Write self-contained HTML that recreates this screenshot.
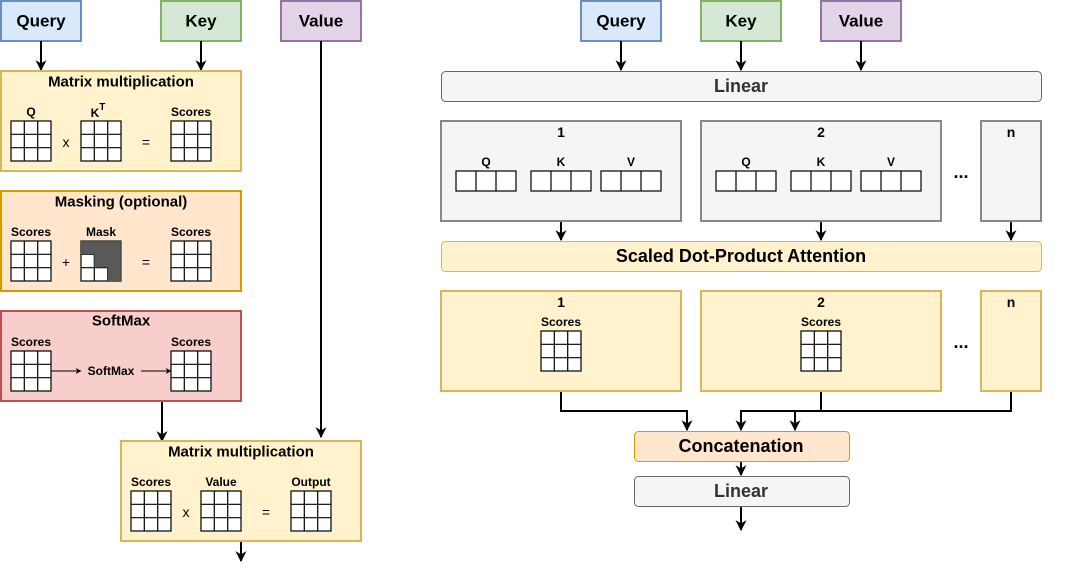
<!DOCTYPE html>
<html><head><meta charset="utf-8"><style>
html,body{margin:0;padding:0;background:#fff;}
svg{display:block;font-family:"Liberation Sans",Arial,sans-serif;}
.t{font-weight:bold;text-anchor:middle;dominant-baseline:central;}
</style></head><body>
<svg width="1087" height="570" viewBox="0 0 1087 570" xmlns="http://www.w3.org/2000/svg">
<defs>
<marker id="a" viewBox="0 0 10 10" refX="9" refY="5" markerWidth="6" markerHeight="6" orient="auto" markerUnits="userSpaceOnUse"><path d="M0,0 L10,5 L0,10 L3,5 Z" fill="#000"/></marker>
<marker id="A" viewBox="0 0 10 10" refX="9" refY="5" markerWidth="11" markerHeight="11" orient="auto" markerUnits="userSpaceOnUse"><path d="M0,0 L10,5 L0,10 L3,5 Z" fill="#000"/></marker>
<g id="g">
<rect x="0" y="0" width="40" height="40" fill="#fff" stroke="#000" stroke-width="1.2"/>
<path d="M13.3,0V40M26.7,0V40M0,13.3H40M0,26.7H40" stroke="#000" stroke-width="1.2"/>
</g>
<g id="r">
<rect x="0" y="0" width="60" height="20" fill="#fff" stroke="#000" stroke-width="1.2"/>
<path d="M20,0V20M40,0V20" stroke="#000" stroke-width="1.2"/>
</g>
</defs>

<!-- LEFT -->
<rect x="1" y="1" width="80" height="40" fill="#dae8fc" stroke="#6c8ebf" stroke-width="2"/>
<text class="t" x="41" y="21" font-size="17">Query</text>
<rect x="161" y="1" width="80" height="40" fill="#d5e8d4" stroke="#82b366" stroke-width="2"/>
<text class="t" x="201" y="21" font-size="17">Key</text>
<rect x="281" y="1" width="80" height="40" fill="#e1d5e7" stroke="#9673a6" stroke-width="2"/>
<text class="t" x="321" y="21" font-size="17">Value</text>
<g stroke="#000" stroke-width="2" fill="none">
<path d="M41,41V70" marker-end="url(#A)"/>
<path d="M201,41V70" marker-end="url(#A)"/>
<path d="M321,41V437" marker-end="url(#A)"/>
<path d="M162,401V441" marker-end="url(#A)"/>
<path d="M241,541V561" marker-end="url(#A)"/>
</g>

<rect x="1" y="71" width="240" height="100" fill="#fff2cc" stroke="#d6b656" stroke-width="2"/>
<text class="t" x="121" y="82" font-size="15">Matrix multiplication</text>
<text class="t" x="31" y="112" font-size="12">Q</text>
<text class="t" x="98" y="113" font-size="12">K<tspan font-size="10" dy="-6">T</tspan></text>
<text class="t" x="191" y="112" font-size="12">Scores</text>
<use href="#g" x="11" y="121"/><use href="#g" x="81" y="121"/><use href="#g" x="171" y="121"/>
<text x="66" y="142" font-size="14" text-anchor="middle" dominant-baseline="central">x</text>
<text x="146" y="142" font-size="14" text-anchor="middle" dominant-baseline="central">=</text>

<rect x="1" y="191" width="240" height="100" fill="#ffe6cc" stroke="#d79b00" stroke-width="2"/>
<text class="t" x="121" y="202" font-size="15">Masking (optional)</text>
<text class="t" x="31" y="232" font-size="12">Scores</text>
<text class="t" x="101" y="232" font-size="12">Mask</text>
<text class="t" x="191" y="232" font-size="12">Scores</text>
<use href="#g" x="11" y="241"/><use href="#g" x="81" y="241"/><use href="#g" x="171" y="241"/>
<path d="M81,241H121V281H107.7V267.3H94.3V254.3H81Z" fill="#595959"/>
<path d="M81,241H121V281" fill="none" stroke="#444" stroke-width="1.2"/>
<text x="66" y="262" font-size="14" text-anchor="middle" dominant-baseline="central">+</text>
<text x="146" y="262" font-size="14" text-anchor="middle" dominant-baseline="central">=</text>

<rect x="1" y="311" width="240" height="90" fill="#f8cecc" stroke="#b85450" stroke-width="2"/>
<text class="t" x="121" y="321" font-size="15">SoftMax</text>
<text class="t" x="31" y="342" font-size="12">Scores</text>
<text class="t" x="191" y="342" font-size="12">Scores</text>
<use href="#g" x="11" y="351"/><use href="#g" x="171" y="351"/>
<text class="t" x="111" y="371" font-size="12">SoftMax</text>
<g stroke="#000" stroke-width="1" fill="none">
<path d="M51,371H81" marker-end="url(#a)"/>
<path d="M141,371H171" marker-end="url(#a)"/>
</g>

<rect x="121" y="441" width="240" height="100" fill="#fff2cc" stroke="#d6b656" stroke-width="2"/>
<text class="t" x="241" y="452" font-size="15">Matrix multiplication</text>
<text class="t" x="151" y="482" font-size="12">Scores</text>
<text class="t" x="221" y="482" font-size="12">Value</text>
<text class="t" x="311" y="482" font-size="12">Output</text>
<use href="#g" x="131" y="491"/><use href="#g" x="201" y="491"/><use href="#g" x="291" y="491"/>
<text x="186" y="512" font-size="14" text-anchor="middle" dominant-baseline="central">x</text>
<text x="266" y="512" font-size="14" text-anchor="middle" dominant-baseline="central">=</text>

<!-- RIGHT -->
<rect x="581" y="1" width="80" height="40" fill="#dae8fc" stroke="#6c8ebf" stroke-width="2"/>
<text class="t" x="621" y="21" font-size="17">Query</text>
<rect x="701" y="1" width="80" height="40" fill="#d5e8d4" stroke="#82b366" stroke-width="2"/>
<text class="t" x="741" y="21" font-size="17">Key</text>
<rect x="821" y="1" width="80" height="40" fill="#e1d5e7" stroke="#9673a6" stroke-width="2"/>
<text class="t" x="861" y="21" font-size="17">Value</text>
<g stroke="#000" stroke-width="2" fill="none">
<path d="M621,41V70" marker-end="url(#A)"/>
<path d="M741,41V70" marker-end="url(#A)"/>
<path d="M861,41V70" marker-end="url(#A)"/>
<path d="M561,221V240" marker-end="url(#A)"/>
<path d="M821,221V240" marker-end="url(#A)"/>
<path d="M1011,221V240" marker-end="url(#A)"/>
<path d="M561,391V411H687V430" marker-end="url(#A)"/>
<path d="M821,391V411H741V430" marker-end="url(#A)"/>
<path d="M1011,391V411H795V430" marker-end="url(#A)"/>
<path d="M741,461V475" marker-end="url(#A)"/>
<path d="M741,506V530" marker-end="url(#A)"/>
</g>

<rect x="441.5" y="71.5" width="600" height="30" rx="4" fill="#f5f5f5" stroke="#666" stroke-width="1"/>
<text class="t" x="741" y="86" font-size="18" fill="#333">Linear</text>

<rect x="441" y="121" width="240" height="100" fill="#f5f5f5" stroke="#888" stroke-width="2"/>
<text class="t" x="561" y="132" font-size="14">1</text>
<text class="t" x="486" y="162" font-size="12">Q</text>
<text class="t" x="561" y="162" font-size="12">K</text>
<text class="t" x="631" y="162" font-size="12">V</text>
<use href="#r" x="456" y="171"/><use href="#r" x="531" y="171"/><use href="#r" x="601" y="171"/>

<rect x="701" y="121" width="240" height="100" fill="#f5f5f5" stroke="#888" stroke-width="2"/>
<text class="t" x="821" y="132" font-size="14">2</text>
<text class="t" x="746" y="162" font-size="12">Q</text>
<text class="t" x="821" y="162" font-size="12">K</text>
<text class="t" x="891" y="162" font-size="12">V</text>
<use href="#r" x="716" y="171"/><use href="#r" x="791" y="171"/><use href="#r" x="861" y="171"/>

<rect x="981" y="121" width="60" height="100" fill="#f5f5f5" stroke="#888" stroke-width="2"/>
<text class="t" x="1011" y="132" font-size="14">n</text>
<text class="t" x="961" y="172" font-size="18">...</text>

<rect x="441.5" y="241.5" width="600" height="30" rx="4" fill="#fff2cc" stroke="#d6b656" stroke-width="1"/>
<text class="t" x="741" y="256" font-size="18">Scaled Dot-Product Attention</text>

<rect x="441" y="291" width="240" height="100" fill="#fff2cc" stroke="#d6b656" stroke-width="2"/>
<text class="t" x="561" y="302" font-size="14">1</text>
<text class="t" x="561" y="322" font-size="12">Scores</text>
<use href="#g" x="541" y="331"/>
<rect x="701" y="291" width="240" height="100" fill="#fff2cc" stroke="#d6b656" stroke-width="2"/>
<text class="t" x="821" y="302" font-size="14">2</text>
<text class="t" x="821" y="322" font-size="12">Scores</text>
<use href="#g" x="801" y="331"/>
<rect x="981" y="291" width="60" height="100" fill="#fff2cc" stroke="#d6b656" stroke-width="2"/>
<text class="t" x="1011" y="302" font-size="14">n</text>
<text class="t" x="961" y="342" font-size="18">...</text>

<rect x="634.5" y="431.5" width="215" height="30" rx="4" fill="#ffe6cc" stroke="#d79b00" stroke-width="1"/>
<text class="t" x="741" y="446" font-size="18">Concatenation</text>
<rect x="634.5" y="476.5" width="215" height="30" rx="4" fill="#f5f5f5" stroke="#666" stroke-width="1"/>
<text class="t" x="741" y="491" font-size="18" fill="#333">Linear</text>
</svg>
</body></html>
